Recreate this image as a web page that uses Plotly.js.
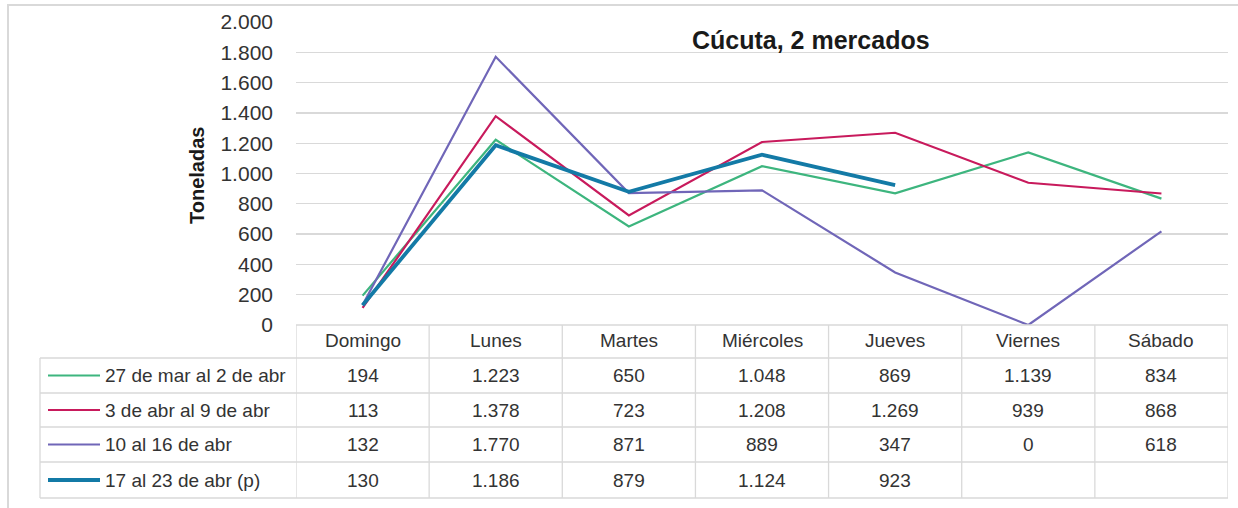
<!DOCTYPE html>
<html>
<head>
<meta charset="utf-8">
<script src="https://cdn.plot.ly/plotly-3.0.1.min.js"></script>
<style>html,body{margin:0;padding:0;background:#fff;}#chart{width:1238px;height:508px;}</style>
</head>
<body>
<div id="chart"></div>
<script>
const categories = ['Domingo', 'Lunes', 'Martes', 'Miércoles', 'Jueves', 'Viernes', 'Sábado'];
const seriesNames = ['27 de mar al 2 de abr', '3 de abr al 9 de abr', '10 al 16 de abr', '17 al 23 de abr (p)'];
const week1 = [194, 1223, 650, 1048, 869, 1139, 834];
const week2 = [113, 1378, 723, 1208, 1269, 939, 868];
const week3 = [132, 1770, 871, 889, 347, 0, 618];
const week4 = [130, 1186, 879, 1124, 923, null, null];
const chartTitle = 'Cúcuta, 2 mercados';
const yTitle = 'Toneladas';

const series = [week1, week2, week3, week4];
const colors = ['#3db57e', '#c81a5c', '#7066b8', '#137aa6'];
const widths = [2.2, 2.2, 2.2, 3.8];

const W = 1238, H = 508;
const px = x => x / W;
const py = y => (H - y) / H;
const FONT = '"Liberation Sans", Arial, sans-serif';
const TXT = '#333333';
const GRID = '#d9d9d9';

function fmt(n) {
  if (n === null || n === undefined) return '';
  return String(n).replace(/\B(?=(\d{3})+(?!\d))/g, '.');
}

const traces = series.map((vals, i) => ({
  type: 'scatter', mode: 'lines', x: categories, y: vals, name: seriesNames[i],
  line: {color: colors[i], width: widths[i]}, connectgaps: false, hoverinfo: 'x+y'
}));

const rowCenters = [375.5, 410, 444.5, 480];
const rowLines = [358, 393, 427, 462, 498];
const shapes = [];
const annotations = [];

// outer border
shapes.push({type: 'rect', xref: 'paper', yref: 'paper', x0: px(8), x1: px(1250), y0: py(520), y1: py(5),
  line: {color: GRID, width: 2}, layer: 'below'});
// table horizontal lines
shapes.push({type: 'line', xref: 'x', yref: 'paper', x0: -0.5, x1: categories.length - 0.5, y0: py(325), y1: py(325), line: {color: GRID, width: 1.3}});
rowLines.forEach(y => shapes.push({type: 'line', xref: 'paper', yref: 'paper', x0: px(40), x1: px(1228), y0: py(y), y1: py(y), line: {color: GRID, width: 1.3}}));
// vertical lines
shapes.push({type: 'line', xref: 'paper', yref: 'paper', x0: px(40), x1: px(40), y0: py(358), y1: py(498), line: {color: GRID, width: 1.3}});
for (let i = 0; i <= categories.length; i++) {
  shapes.push({type: 'line', xref: 'x', yref: 'paper', x0: i - 0.5, x1: i - 0.5, y0: py(325), y1: py(498), line: {color: GRID, width: 1.3}});
}
// header
categories.forEach(c => annotations.push({xref: 'x', yref: 'paper', x: c, y: py(341), text: c, showarrow: false,
  font: {family: FONT, size: 19, color: TXT}, xanchor: 'center', yanchor: 'middle'}));
// rows
series.forEach((vals, r) => {
  shapes.push({type: 'line', xref: 'paper', yref: 'paper', x0: px(48), x1: px(100), y0: py(rowCenters[r]), y1: py(rowCenters[r]),
    line: {color: colors[r], width: widths[r]}});
  annotations.push({xref: 'paper', yref: 'paper', x: px(103), y: py(rowCenters[r]), text: seriesNames[r], showarrow: false,
    font: {family: FONT, size: 19, color: TXT}, xanchor: 'left', yanchor: 'middle'});
  vals.forEach((v, c) => {
    if (v === null) return;
    annotations.push({xref: 'x', yref: 'paper', x: categories[c], y: py(rowCenters[r]), text: fmt(v), showarrow: false,
      font: {family: FONT, size: 19, color: TXT}, xanchor: 'center', yanchor: 'middle'});
  });
});
// titles
annotations.push({xref: 'paper', yref: 'paper', x: px(811), y: py(40), text: '<b>' + chartTitle + '</b>', showarrow: false,
  font: {family: FONT, size: 25, color: '#1a1a1a'}, xanchor: 'center', yanchor: 'middle'});
annotations.push({xref: 'paper', yref: 'paper', x: px(197), y: py(176), text: '<b>' + yTitle + '</b>', showarrow: false, textangle: -90,
  font: {family: FONT, size: 20, color: '#1a1a1a'}, xanchor: 'center', yanchor: 'middle'});

const layout = {
  width: W, height: H,
  margin: {l: 0, r: 0, t: 0, b: 0},
  paper_bgcolor: '#ffffff', plot_bgcolor: '#ffffff',
  separators: ',.',
  showlegend: false,
  xaxis: {domain: [px(296), px(1228)], type: 'category', categoryarray: categories, range: [-0.5, categories.length - 0.5],
    showticklabels: false, showgrid: false, zeroline: false, showline: false, ticks: '', fixedrange: true},
  yaxis: {domain: [py(325), py(22)], range: [0, 2000], dtick: 200, tick0: 0, tickformat: ',d',
    gridcolor: GRID, gridwidth: 1.3, zeroline: false, showline: false, ticks: '', ticklabelstandoff: 22,
    tickfont: {family: FONT, size: 21, color: TXT}, fixedrange: true},
  shapes: shapes,
  annotations: annotations
};

Plotly.newPlot('chart', traces, layout, {displayModeBar: false, staticPlot: true});
</script>
</body>
</html>
